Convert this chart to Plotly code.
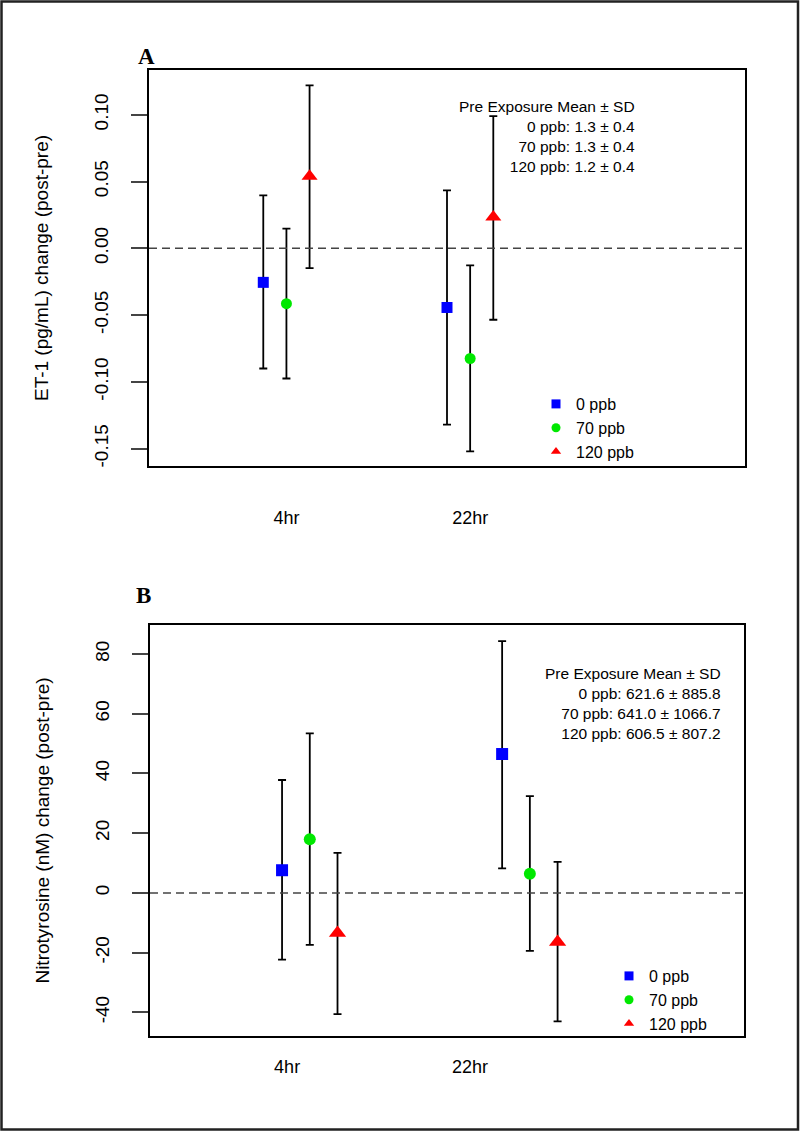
import plotly.graph_objects as go

# time points and dose groups
times = ["4hr", "22hr"]
doses = ["0 ppb", "70 ppb", "120 ppb"]
colors = ["#0000ff", "#00e800", "#ff0000"]
symbols = ["square", "circle", "triangle-up"]

# panel A: ET-1 change (post-pre), mean and interval ends
et1_mean_0 = [-0.0255, -0.0443]
et1_mean_70 = [-0.0415, -0.0825]
et1_mean_120 = [0.0540, 0.0235]
et1_hi_0 = [0.0397, 0.0433]
et1_hi_70 = [0.0148, -0.0128]
et1_hi_120 = [0.1220, 0.0990]
et1_lo_0 = [-0.0900, -0.1320]
et1_lo_70 = [-0.0975, -0.1520]
et1_lo_120 = [-0.0148, -0.0535]

# panel B: nitrotyrosine change (post-pre)
nt_mean_0 = [7.6, 46.5]
nt_mean_70 = [18.0, 6.4]
nt_mean_120 = [-13.4, -16.4]
nt_hi_0 = [37.8, 84.3]
nt_hi_70 = [53.4, 32.4]
nt_hi_120 = [13.4, 10.4]
nt_lo_0 = [-22.3, 8.2]
nt_lo_70 = [-17.4, -19.4]
nt_lo_120 = [-40.6, -43.0]

et1_ticks = [-0.15, -0.10, -0.05, 0.00, 0.05, 0.10]
nt_ticks = [-40, -20, 0, 20, 40, 60, 80]

pre_a = ["Pre Exposure Mean ± SD", "0 ppb: 1.3 ± 0.4", "70 ppb: 1.3 ± 0.4", "120 ppb: 1.2 ± 0.4"]
pre_b = ["Pre Exposure Mean ± SD", "0 ppb: 621.6 ± 885.8", "70 ppb: 641.0 ± 1066.7", "120 ppb: 606.5 ± 807.2"]

W, H = 800, 1132
FONT = "Liberation Sans, Arial, sans-serif"


def px_x(v):
    return v / W


def px_y(v):
    return 1 - v / H


fig = go.Figure()

panels = [
    dict(xa="x", ya="y", means=[et1_mean_0, et1_mean_70, et1_mean_120],
         his=[et1_hi_0, et1_hi_70, et1_hi_120], los=[et1_lo_0, et1_lo_70, et1_lo_120],
         sizes=[11, 11, 14], legend="legend"),
    dict(xa="x2", ya="y2", means=[nt_mean_0, nt_mean_70, nt_mean_120],
         his=[nt_hi_0, nt_hi_70, nt_hi_120], los=[nt_lo_0, nt_lo_70, nt_lo_120],
         sizes=[12, 12, 15], legend="legend2"),
]
dodge = 0.126

for p in panels:
    for k in range(3):
        xs = [i + 1 + (k - 1) * dodge for i in range(len(times))]
        m = p["means"][k]
        up = [h - v for h, v in zip(p["his"][k], m)]
        dn = [v - l for v, l in zip(m, p["los"][k])]
        fig.add_trace(go.Scatter(
            x=xs, y=m, mode="markers", xaxis=p["xa"], yaxis=p["ya"],
            marker=dict(symbol=symbols[k], color=colors[k], size=p["sizes"][k]),
            error_y=dict(type="data", array=up, arrayminus=dn, color="black",
                         thickness=1.8, width=4),
            showlegend=False))
        # legend entry with small symbol
        fig.add_trace(go.Scatter(
            x=[None], y=[None], mode="markers", name=doses[k], xaxis=p["xa"], yaxis=p["ya"],
            marker=dict(symbol=symbols[k], color=colors[k], size=9),
            legend=p["legend"]))

axis_common = dict(showgrid=False, zeroline=False, showline=True, mirror=True,
                   linecolor="black", linewidth=1.5)

fig.update_layout(
    width=W, height=H, margin=dict(l=0, r=0, t=0, b=0),
    paper_bgcolor="white", plot_bgcolor="white",
    font=dict(family=FONT, color="black"),
    xaxis=dict(**axis_common, domain=[px_x(149), px_x(745)], range=[0.252, 3.496],
               tickvals=[1, 2], ticktext=times, ticks="outside", ticklen=35,
               tickcolor="rgba(0,0,0,0)", tickfont=dict(size=18), anchor="y"),
    yaxis=dict(**axis_common, domain=[px_y(466), px_y(70)], range=[-0.163, 0.1335],
               tickvals=et1_ticks, ticktext=[f"{v:.2f}" for v in et1_ticks],
               ticks="outside", ticklen=16, tickwidth=1.5, tickangle=-90,
               tickfont=dict(size=19), ticklabelstandoff=16,
               title=dict(text="ET-1 (pg/mL) change (post-pre)", font=dict(size=19), standoff=37),
               anchor="x"),
    xaxis2=dict(**axis_common, domain=[px_x(150), px_x(744)], range=[0.274, 2.973],
                tickvals=[0.897, 1.728], ticktext=times, ticks="outside", ticklen=14,
                tickcolor="rgba(0,0,0,0)", tickfont=dict(size=18), anchor="y2"),
    yaxis2=dict(**axis_common, domain=[px_y(1036), px_y(625)], range=[-47.9, 89.7],
                tickvals=nt_ticks, ticktext=[str(v) for v in nt_ticks],
                ticks="outside", ticklen=16, tickwidth=1.5, tickangle=-90,
                tickfont=dict(size=19), ticklabelstandoff=16,
                title=dict(text="Nitrotyrosine (nM) change (post-pre)", font=dict(size=19), standoff=37),
                anchor="x2"),
    legend=dict(x=px_x(536), y=px_y(387), xanchor="left", yanchor="top",
                bgcolor="rgba(0,0,0,0)", font=dict(size=16), itemwidth=30,
                tracegroupgap=0),
    legend2=dict(x=px_x(609), y=px_y(959), xanchor="left", yanchor="top",
                 bgcolor="rgba(0,0,0,0)", font=dict(size=16), itemwidth=30,
                 tracegroupgap=0),
)

# zero reference lines
for xa, ya in [("x", "y"), ("x2", "y2")]:
    fig.add_shape(type="line", xref=f"{xa} domain", yref=ya, x0=0, x1=1, y0=0, y1=0,
                  line=dict(color="#444", width=1.5, dash="8px,5px"))

# pre-exposure text blocks
fig.add_annotation(text="<br>".join(pre_a), xref="paper", yref="paper",
                   x=px_x(637), y=px_y(96), xanchor="right", yanchor="top", align="right",
                   showarrow=False, font=dict(size=15.5, family=FONT))
fig.add_annotation(text="<br>".join(pre_b), xref="paper", yref="paper",
                   x=px_x(723), y=px_y(663), xanchor="right", yanchor="top", align="right",
                   showarrow=False, font=dict(size=15.5, family=FONT))

# panel letters
fig.add_annotation(text="<b>A</b>", xref="paper", yref="paper", x=px_x(136), y=px_y(42),
                   showarrow=False, font=dict(size=23, family="Liberation Serif, Times New Roman, serif"))
fig.add_annotation(text="<b>B</b>", xref="paper", yref="paper", x=px_x(134), y=px_y(595),
                   showarrow=False, font=dict(size=23, family="Liberation Serif, Times New Roman, serif"))

# outer frame
fig.add_shape(type="rect", xref="paper", yref="paper",
              x0=px_x(1.5), x1=px_x(798), y0=px_y(1129.5), y1=px_y(1.5),
              line=dict(color="#222", width=2.5))

fig.write_html("out.html", config={"displayModeBar": False},
               post_script="document.body.style.margin='0';")
